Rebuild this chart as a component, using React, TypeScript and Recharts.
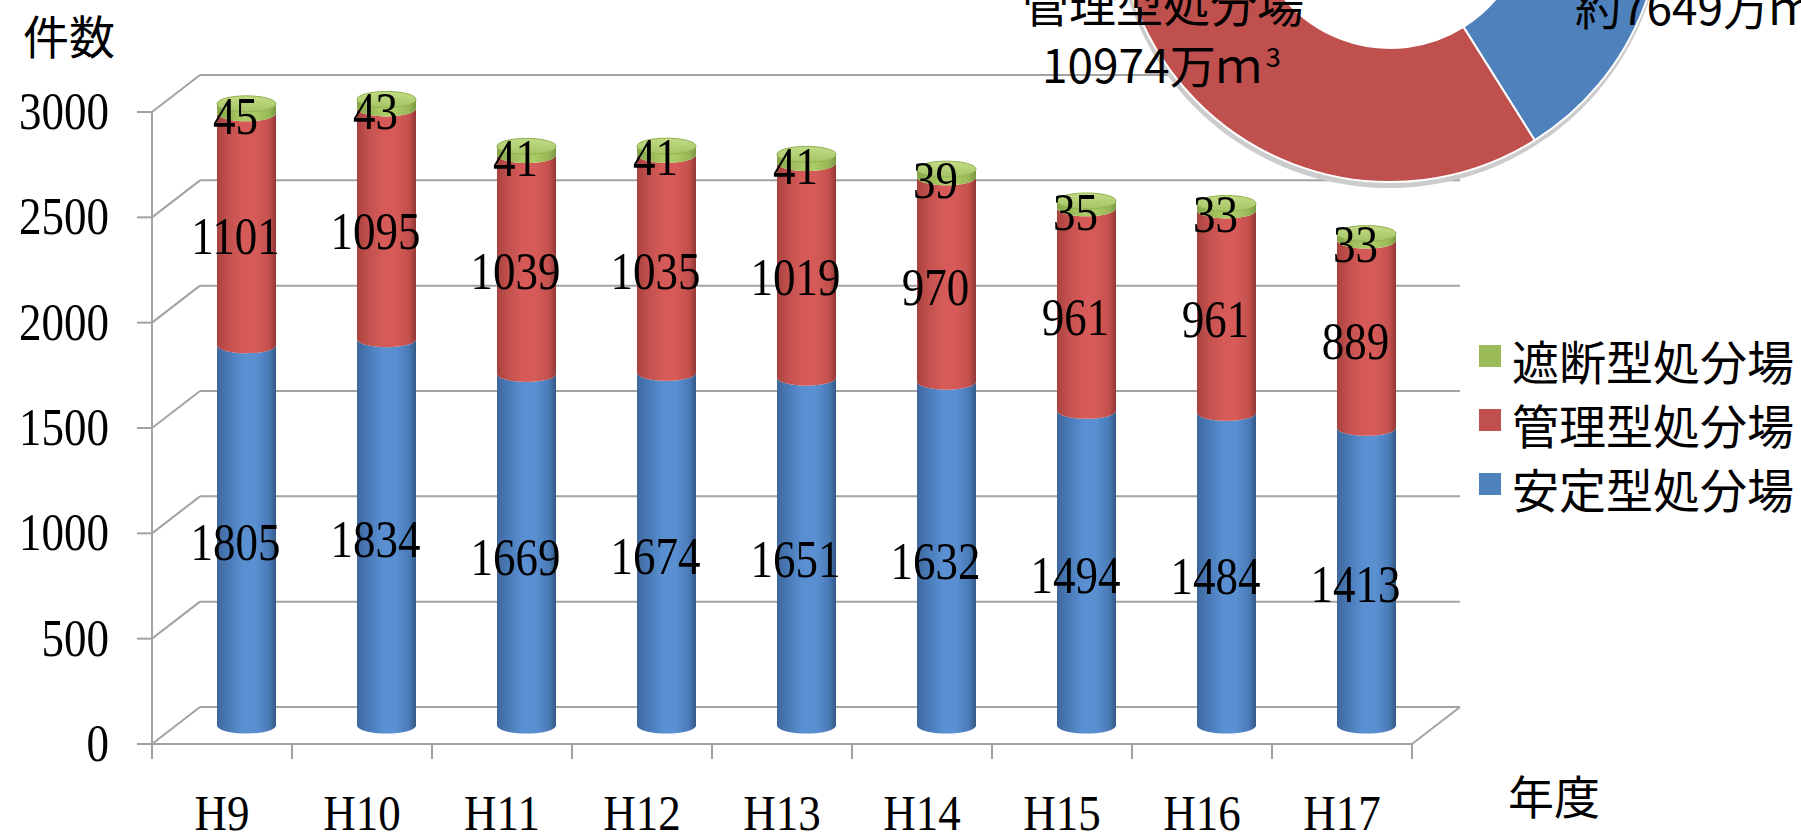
import React from 'react';
import { BarChart, Bar, XAxis, YAxis, CartesianGrid, LabelList, Legend, PieChart, Pie, Cell } from 'recharts';

// ---- data ----
const years = ['H9', 'H10', 'H11', 'H12', 'H13', 'H14', 'H15', 'H16', 'H17'];
const anteiValues = [1805, 1834, 1669, 1674, 1651, 1632, 1494, 1484, 1413];
const kanriValues = [1101, 1095, 1039, 1035, 1019, 970, 961, 961, 889];
const shadanValues = [45, 43, 41, 41, 41, 39, 35, 33, 33];
const yTicks = [0, 500, 1000, 1500, 2000, 2500, 3000];
const seriesNames = ['安定型処分場', '管理型処分場', '遮断型処分場'];
const capacityNames = ['安定型処分場', '管理型処分場'];
const capacityValues = [7649, 10974];

const data = years.map((y, i) => ({
  year: y,
  antei: anteiValues[i],
  kanri: kanriValues[i],
  shadan: shadanValues[i],
}));
const capacityData = capacityNames.map((n, i) => ({ name: n, value: capacityValues[i] }));

// ---- layout ----
const W = 1801;
const H = 837;
const MARGIN = { top: 112, right: 389, bottom: 33, left: 92 };
const Y_AXIS_W = 60;
const X_AXIS_H = 60;
const PLOT_BOTTOM = H - MARGIN.bottom - X_AXIS_H;
const PLOT_LEFT = MARGIN.left + Y_AXIS_W;
const PLOT_RIGHT = W - MARGIN.right;
const HALF_BAND = (PLOT_RIGHT - PLOT_LEFT) / years.length / 2;
const DX = 48; // depth offset x
const DY = 37; // depth offset y (up)
const RY = 8;
const GRID = '#a3a3a3';

const SERIF = '"Liberation Serif", "Times New Roman", serif';
const SANS = '"Noto Sans CJK JP", "Noto Sans", sans-serif';

const COLORS = { antei: '#4F81BD', kanri: '#C0504D', shadan: '#9BBB59' };

const makeShape = (grad: string, top: boolean) => (p: any) => {
  const w = p.width;
  const x = p.x + DX / 2;
  const yT = p.y - DY / 2;
  const yB = p.y + p.height - DY / 2;
  const rx = w / 2;
  const d = `M${x},${yT} A${rx},${RY} 0 0 0 ${x + w},${yT} L${x + w},${yB} A${rx},${RY} 0 0 1 ${x},${yB} Z`;
  return (
    <g>
      <path d={d} fill={`url(#${grad})`} />
      {top && (
        <ellipse cx={x + rx} cy={yT} rx={rx} ry={RY} fill="url(#capGreen)" stroke="#8fb04e" strokeWidth={1} />
      )}
    </g>
  );
};

const renderLabel = (p: any) => {
  const { x, y, width, height, value } = p;
  const cx = x + width / 2 + DX / 2 - 11;
  const cy = y + height / 2 - DY / 2 + 8;
  return (
    <text
      transform={`translate(${cx},${cy + 17}) scale(1,1.15)`}
      textAnchor="middle"
      fontFamily={SERIF}
      fontSize={45}
      fill="#000"
    >
      {value}
    </text>
  );
};

const YTick = (p: any) => {
  const { x, y, payload } = p;
  return (
    <text
      transform={`translate(${x},${y + 17}) scale(1,1.15)`}
      textAnchor="end"
      fontFamily={SERIF}
      fontSize={45}
      fill="#000"
    >
      {payload.value}
    </text>
  );
};

const XTick = (p: any) => {
  const { x, y, payload, index } = p;
  const isLast = index === years.length - 1;
  return (
    <g>
      <line x1={x - HALF_BAND} y1={PLOT_BOTTOM} x2={x - HALF_BAND} y2={PLOT_BOTTOM + 15} stroke={GRID} strokeWidth={2} />
      {isLast && (
        <line x1={x + HALF_BAND} y1={PLOT_BOTTOM} x2={x + HALF_BAND} y2={PLOT_BOTTOM + 15} stroke={GRID} strokeWidth={2} />
      )}
      <text
        transform={`translate(${x},${y + 69}) scale(1,1.12)`}
        textAnchor="middle"
        fontFamily={SERIF}
        fontSize={45}
        fill="#000"
      >
        {payload.value}
      </text>
    </g>
  );
};

const gridLine = (p: any) => {
  const { x1, x2, y1 } = p;
  const isFloor = Math.abs(y1 - PLOT_BOTTOM) < 1;
  return (
    <g key={`grid-${y1}`}>
      <line x1={x1} y1={y1} x2={x1 + DX} y2={y1 - DY} stroke={GRID} strokeWidth={2} />
      <line x1={x1 + DX} y1={y1 - DY} x2={x2 + DX} y2={y1 - DY} stroke={GRID} strokeWidth={2} />
      {isFloor && <line x1={x2} y1={y1} x2={x2 + DX} y2={y1 - DY} stroke={GRID} strokeWidth={2} />}
    </g>
  );
};

const renderLegend = (props: any) => {
  const items = [...(props.payload || [])].reverse();
  return (
    <div>
      {items.map((it: any) => (
        <div key={it.value} style={{ display: 'flex', height: 64, alignItems: 'flex-start' }}>
          <div style={{ width: 22, height: 22, background: it.color, marginTop: 17, marginRight: 11 }} />
          <span style={{ fontFamily: SANS, fontSize: 47, lineHeight: '64px', color: '#000', whiteSpace: 'nowrap' }}>
            {it.value}
          </span>
        </div>
      ))}
    </div>
  );
};

const cylGrad = (id: string, edge: string, mid: string, light: string, dark: string) => (
  <linearGradient id={id} x1="0" y1="0" x2="1" y2="0">
    <stop offset="0%" stopColor={edge} />
    <stop offset="20%" stopColor={mid} />
    <stop offset="45%" stopColor={light} />
    <stop offset="65%" stopColor={light} />
    <stop offset="88%" stopColor={mid} />
    <stop offset="100%" stopColor={dark} />
  </linearGradient>
);

export default function App() {
  return (
    <div style={{ position: 'absolute', left: 0, top: 0, width: W, height: H, overflow: 'hidden', background: '#fff' }}>
      <div style={{ position: 'absolute', left: 0, top: 0 }}>
        <BarChart width={W} height={H} data={data} margin={MARGIN} barSize={59}>
          <defs>
            {cylGrad('gBlue', '#3f689c', '#4a7bb9', '#5a90d2', '#345985')}
            {cylGrad('gRed', '#a8423f', '#c4514e', '#d65b58', '#923836')}
            {cylGrad('gGreen', '#86a64a', '#97b856', '#abcb66', '#7a9843')}
            <linearGradient id="capGreen" x1="0" y1="0" x2="0" y2="1">
              <stop offset="0%" stopColor="#c3dc86" />
              <stop offset="100%" stopColor="#a5c464" />
            </linearGradient>
          </defs>
          <CartesianGrid horizontal={gridLine} vertical={false} />
          <XAxis
            dataKey="year"
            height={X_AXIS_H}
            axisLine={{ stroke: GRID, strokeWidth: 2 }}
            tickLine={{ stroke: 'none' }}
            tickSize={15}
            tickMargin={2}
            tick={<XTick />}
            interval={0}
          />
          <YAxis
            width={Y_AXIS_W}
            domain={[0, 3000]}
            ticks={yTicks}
            interval={0}
            axisLine={{ stroke: GRID, strokeWidth: 2 }}
            tickLine={{ stroke: GRID, strokeWidth: 2 }}
            tickSize={15}
            tickMargin={28}
            tick={<YTick />}
          />
          <Legend
            layout="horizontal"
            verticalAlign="middle"
            align="center"
            content={renderLegend}
            wrapperStyle={{ position: 'absolute', left: 1479, top: 328, width: 330, height: 200 }}
          />
          <Bar dataKey="antei" name={seriesNames[0]} stackId="a" fill={COLORS.antei} shape={makeShape('gBlue', false)} isAnimationActive={false}>
            <LabelList dataKey="antei" content={renderLabel} />
          </Bar>
          <Bar dataKey="kanri" name={seriesNames[1]} stackId="a" fill={COLORS.kanri} shape={makeShape('gRed', false)} isAnimationActive={false}>
            <LabelList dataKey="kanri" content={renderLabel} />
          </Bar>
          <Bar dataKey="shadan" name={seriesNames[2]} stackId="a" fill={COLORS.shadan} shape={makeShape('gGreen', true)} isAnimationActive={false}>
            <LabelList dataKey="shadan" content={renderLabel} />
          </Bar>
        </BarChart>
      </div>

      <div style={{ position: 'absolute', left: 1000, top: -400 }}>
        <PieChart width={801} height={800}>
          <Pie
            data={[{ name: 'shadow', value: 1 }]}
            dataKey="value"
            cx={384}
            cy={309}
            innerRadius={200}
            outerRadius={274}
            fill="#cccccc"
            stroke="none"
            isAnimationActive={false}
          />
          <Pie
            data={capacityData}
            dataKey="value"
            cx={385}
            cy={305}
            innerRadius={138}
            outerRadius={272}
            startAngle={90}
            endAngle={-270}
            stroke="#fff"
            strokeWidth={2}
            isAnimationActive={false}
          >
            <Cell fill={COLORS.antei} />
            <Cell fill={COLORS.kanri} />
          </Pie>
        </PieChart>
      </div>

      <svg width={W} height={H} style={{ position: 'absolute', left: 0, top: 0, pointerEvents: 'none' }}>
        <text x={1163} y={22} textAnchor="middle" fontFamily={SANS} fontSize={47} fill="#000">
          {capacityNames[1]}
        </text>
        <text x={1042} y={83} fontFamily={SANS} fontSize={46} fill="#000">
          {`${capacityValues[1]}万ｍ`}
          <tspan dx={4} dy={-16} fontSize={27}>3</tspan>
        </text>
        <text x={1575} y={25} fontFamily={SANS} fontSize={46} fill="#000">
          {`約${capacityValues[0]}万ｍ`}
        </text>
        <text x={23} y={54} fontFamily={SANS} fontSize={46} fill="#000">件数</text>
        <text x={1508} y={814} fontFamily={SANS} fontSize={46} fill="#000">年度</text>
      </svg>
    </div>
  );
}
